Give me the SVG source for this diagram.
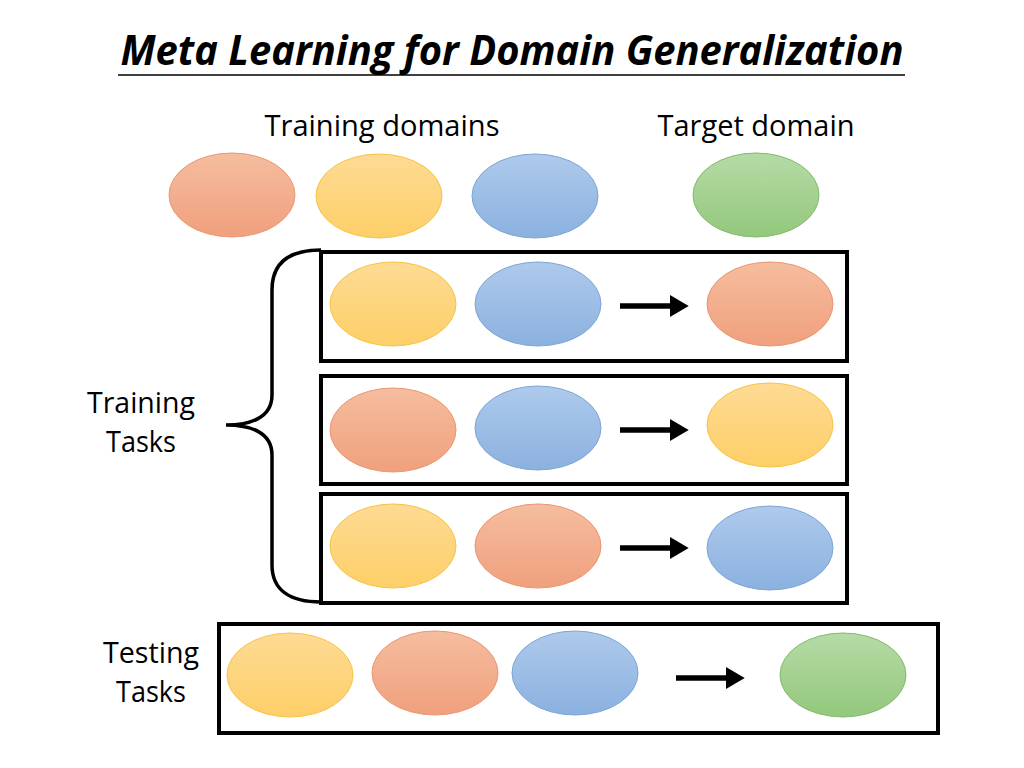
<svg xmlns="http://www.w3.org/2000/svg" width="1024" height="768" viewBox="0 0 1024 768">
<defs>
<linearGradient id="gO" x1="0" y1="0" x2="0" y2="1"><stop offset="0" stop-color="#f5bd9f"/><stop offset="1" stop-color="#f0a07d"/></linearGradient>
<linearGradient id="gY" x1="0" y1="0" x2="0" y2="1"><stop offset="0" stop-color="#fedb94"/><stop offset="1" stop-color="#fdcf68"/></linearGradient>
<linearGradient id="gB" x1="0" y1="0" x2="0" y2="1"><stop offset="0" stop-color="#aecaeb"/><stop offset="1" stop-color="#8bb1e0"/></linearGradient>
<linearGradient id="gG" x1="0" y1="0" x2="0" y2="1"><stop offset="0" stop-color="#b6dba6"/><stop offset="1" stop-color="#93c87c"/></linearGradient>
<marker id="ah" markerWidth="4" markerHeight="4" refX="0" refY="2" orient="auto" markerUnits="strokeWidth"><path d="M0,0 L3.4,2 L0,4 Z" fill="#000"/></marker>
</defs>
<style>
.o{fill:url(#gO);stroke:#ea9670;stroke-width:1}
.y{fill:url(#gY);stroke:#f6c344;stroke-width:1}
.b{fill:url(#gB);stroke:#7ea5d6;stroke-width:1}
.g{fill:url(#gG);stroke:#82b96c;stroke-width:1}
.box{fill:none;stroke:#000;stroke-width:4}
.t{font-family:"Open Sans","Noto Sans",sans-serif;font-size:29px;fill:#000;text-anchor:middle}
.ar{stroke:#000;stroke-width:5.5;fill:none;marker-end:url(#ah)}
</style>
<rect width="1024" height="768" fill="#fff"/>
<g id="title">
<text x="512" y="65" font-family="'Open Sans','Noto Sans',sans-serif" font-size="42" font-weight="bold" font-style="italic" text-anchor="middle" textLength="783" lengthAdjust="spacingAndGlyphs">Meta Learning for Domain Generalization</text>
<line x1="118" y1="75" x2="905" y2="75" stroke="#000" stroke-width="1.5"/>
</g>
<g id="labels">
<text class="t" x="382" y="136" textLength="235" lengthAdjust="spacingAndGlyphs">Training domains</text>
<text class="t" x="756" y="136" textLength="197" lengthAdjust="spacingAndGlyphs">Target domain</text>
<text class="t" x="141" y="413" textLength="108" lengthAdjust="spacingAndGlyphs">Training</text>
<text class="t" x="141" y="452" textLength="70" lengthAdjust="spacingAndGlyphs">Tasks</text>
<text class="t" x="151" y="663" textLength="96" lengthAdjust="spacingAndGlyphs">Testing</text>
<text class="t" x="151" y="702" textLength="70" lengthAdjust="spacingAndGlyphs">Tasks</text>
</g>
<g id="domains">
<ellipse class="o" cx="232" cy="195" rx="63" ry="42"/>
<ellipse class="y" cx="379" cy="196" rx="63" ry="42"/>
<ellipse class="b" cx="535" cy="196" rx="63" ry="42"/>
<ellipse class="g" cx="756" cy="195" rx="63" ry="42"/>
</g>
<g id="brace">
<path d="M321,250 C290,250 272,262 272,290 L272,395 C272,418 250,425 226,425 C250,425 272,432 272,455 L272,565 C272,590 290,602 321,602" fill="none" stroke="#000" stroke-width="3.5"/>
</g>
<g id="task1">
<rect class="box" x="321" y="252" width="526" height="109"/>
<ellipse class="y" cx="393" cy="304" rx="63" ry="42"/>
<ellipse class="b" cx="538" cy="304" rx="63" ry="42"/>
<ellipse class="o" cx="770" cy="304" rx="63" ry="42"/>
</g>
<g id="task2">
<rect class="box" x="321" y="376" width="526" height="108"/>
<ellipse class="o" cx="393" cy="430" rx="63" ry="42"/>
<ellipse class="b" cx="538" cy="428" rx="63" ry="42"/>
<ellipse class="y" cx="770" cy="425" rx="63" ry="42"/>
</g>
<g id="task3">
<rect class="box" x="321" y="494" width="526" height="109"/>
<ellipse class="y" cx="393" cy="546" rx="63" ry="42"/>
<ellipse class="o" cx="538" cy="546" rx="63" ry="42"/>
<ellipse class="b" cx="770" cy="548" rx="63" ry="42"/>
</g>
<g id="testing">
<rect class="box" x="219" y="624" width="719" height="109"/>
<ellipse class="y" cx="290" cy="675" rx="63" ry="42"/>
<ellipse class="o" cx="435" cy="673" rx="63" ry="42"/>
<ellipse class="b" cx="575" cy="673" rx="63" ry="42"/>
<ellipse class="g" cx="843" cy="675" rx="63" ry="42"/>
</g>
<g id="connectors">
<line class="ar" x1="620" y1="306" x2="670" y2="306"/>
<line class="ar" x1="620" y1="430" x2="670" y2="430"/>
<line class="ar" x1="620" y1="548" x2="670" y2="548"/>
<line class="ar" x1="676" y1="678" x2="726" y2="678"/>
</g>
</svg>
